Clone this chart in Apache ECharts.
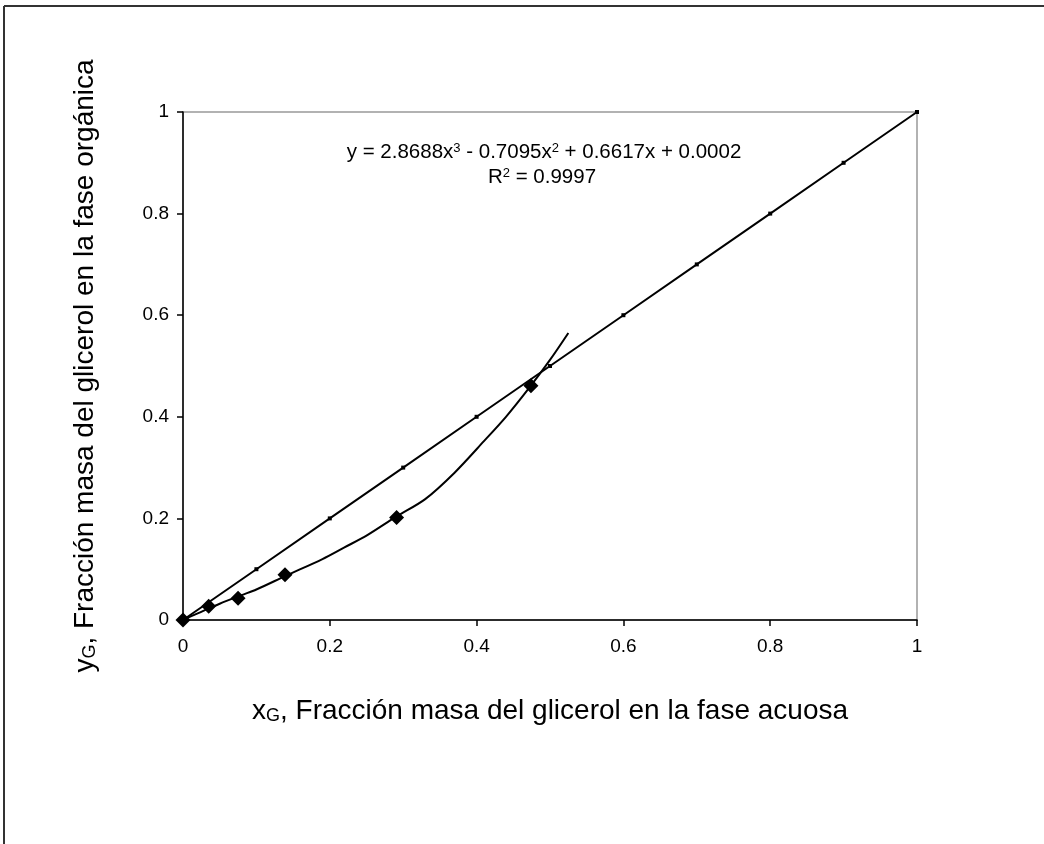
<!DOCTYPE html>
<html>
<head>
<meta charset="utf-8">
<script src="https://cdn.jsdelivr.net/npm/echarts@6/dist/echarts.min.js"></script>
<style>
  html, body { margin: 0; padding: 0; background: #fff; }
  #myChart { width: 1044px; height: 844px; }
</style>
</head>
<body>
<div id="myChart"></div>
<script>
// datos experimentales (diamantes)
var expX = [0, 0.035, 0.075, 0.139, 0.291, 0.474];
var expY = [0, 0.027, 0.043, 0.089, 0.202, 0.461];

// linea diagonal y = x
var diagX = [0, 0.1, 0.2, 0.3, 0.4, 0.5, 0.6, 0.7, 0.8, 0.9, 1];
var diagY = [0, 0.1, 0.2, 0.3, 0.4, 0.5, 0.6, 0.7, 0.8, 0.9, 1];

// linea de tendencia
var trendX = [0, 0.02, 0.05, 0.08, 0.1, 0.14, 0.19, 0.22, 0.25, 0.29, 0.33, 0.37, 0.41, 0.44, 0.47, 0.5, 0.525];
var trendY = [0.0002, 0.013, 0.032, 0.049, 0.060, 0.087, 0.120, 0.143, 0.166, 0.203, 0.238, 0.290, 0.352, 0.400, 0.454, 0.512, 0.565];

var tickLabels = ['0', '0.2', '0.4', '0.6', '0.8', '1'];

function pairs(xs, ys) {
  var out = [];
  for (var i = 0; i < xs.length; i++) out.push([xs[i], ys[i]]);
  return out;
}
function fmt(v) {
  return tickLabels[Math.round(v / 0.2)];
}

var font = 'Liberation Sans, Arial, sans-serif';
var myChart = echarts.init(document.getElementById('myChart'));

myChart.setOption({
  animation: false,
  backgroundColor: '#fff',
  textStyle: { fontFamily: font, color: '#000' },
  grid: {
    left: 183, top: 112, right: 127, bottom: 224,
    show: true, borderColor: '#999', borderWidth: 1.5, backgroundColor: 'transparent'
  },
  graphic: [
    { type: 'line', shape: { x1: 4, y1: 6, x2: 1044, y2: 6 }, style: { stroke: '#333', lineWidth: 2 } },
    { type: 'line', shape: { x1: 4, y1: 6, x2: 4, y2: 844 }, style: { stroke: '#333', lineWidth: 2 } },
    {
      type: 'text', x: 544, y: 152,
      style: {
        text: 'y = 2.8688x{sup|3} - 0.7095x{sup|2} + 0.6617x + 0.0002',
        align: 'center', verticalAlign: 'middle',
        font: '20.5px ' + font, fill: '#000',
        rich: { sup: { fontSize: 13, verticalAlign: 'top', fontFamily: font } }
      }
    },
    {
      type: 'text', x: 542, y: 177,
      style: {
        text: 'R{sup|2} = 0.9997',
        align: 'center', verticalAlign: 'middle',
        font: '20.5px ' + font, fill: '#000',
        rich: { sup: { fontSize: 13, verticalAlign: 'top', fontFamily: font } }
      }
    }
  ],
  xAxis: {
    type: 'value', min: 0, max: 1, interval: 0.2,
    name: 'x{sub|G}, Fracción masa del glicerol en la fase acuosa',
    nameLocation: 'middle', nameGap: 77,
    nameTextStyle: {
      fontSize: 28, fontFamily: font, color: '#000',
      rich: { sub: { fontSize: 18, verticalAlign: 'bottom', fontFamily: font, color: '#000' } }
    },
    axisLine: { lineStyle: { color: '#000', width: 1.5 } },
    axisTick: { inside: false, length: 6, lineStyle: { color: '#000', width: 1.5 } },
    axisLabel: { fontSize: 19, color: '#000', margin: 17, formatter: fmt },
    splitLine: { show: false }
  },
  yAxis: {
    type: 'value', min: 0, max: 1, interval: 0.2,
    name: 'y{sub|G}, Fracción masa del glicerol en la fase orgánica',
    nameLocation: 'middle', nameGap: 84, nameRotate: 90,
    nameTextStyle: {
      fontSize: 28, fontFamily: font, color: '#000',
      rich: { sub: { fontSize: 18, verticalAlign: 'bottom', fontFamily: font, color: '#000' } }
    },
    axisLine: { lineStyle: { color: '#000', width: 1.5 } },
    axisTick: { inside: false, length: 6, lineStyle: { color: '#000', width: 1.5 } },
    axisLabel: { fontSize: 19, color: '#000', margin: 14, formatter: fmt },
    splitLine: { show: false }
  },
  series: [
    {
      name: 'diagonal', type: 'line',
      data: pairs(diagX, diagY),
      symbol: 'rect', symbolSize: 4, showSymbol: true,
      itemStyle: { color: '#000' },
      lineStyle: { color: '#000', width: 2 },
      z: 2
    },
    {
      name: 'tendencia', type: 'line',
      data: pairs(trendX, trendY),
      symbol: 'none', smooth: 0.3,
      lineStyle: { color: '#000', width: 2 },
      z: 3
    },
    {
      name: 'experimental', type: 'scatter',
      data: pairs(expX, expY),
      symbol: 'diamond', symbolSize: 15,
      itemStyle: { color: '#000', opacity: 1 },
      z: 4
    }
  ]
});
</script>
</body>
</html>
